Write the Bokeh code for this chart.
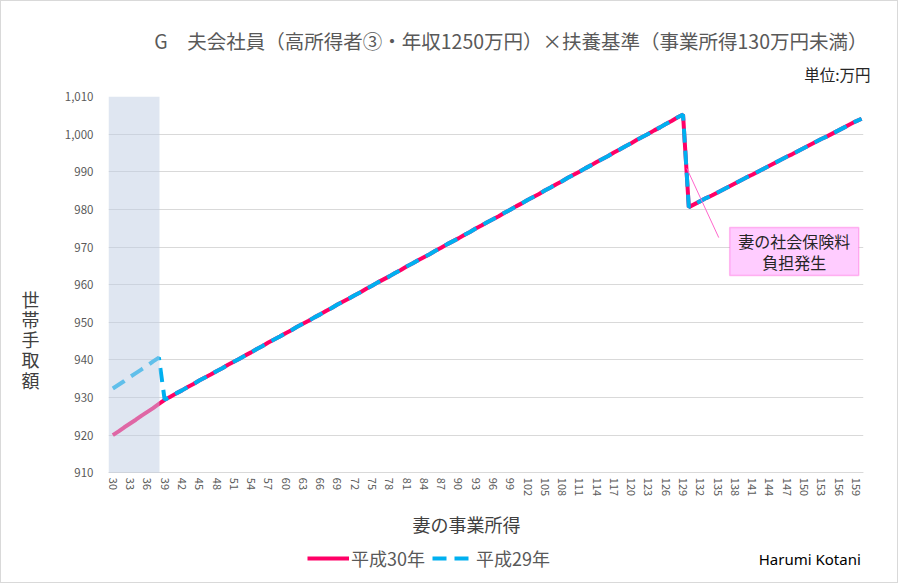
from bokeh.plotting import figure
from bokeh.models import (Range1d, FixedTicker, NumeralTickFormatter, BoxAnnotation,
                          Label, Legend, LegendItem, Arrow, Title, LinearAxis)
from bokeh.embed import file_html
from bokeh.resources import INLINE

JP = "Noto Sans CJK JP"

# wife's business income (万円), one category per 1万円
income = list(range(30, 161))

# household take-home (万円)
h30 = [
    920.0, 921.0, 922.1, 923.1, 924.1, 925.2, 926.2, 927.2, 928.3,            # 30-38
    929.4, 930.2, 931.1, 931.9, 932.8, 933.6, 934.5, 935.3, 936.1, 937.0,     # 39-48
    937.8, 938.7, 939.5, 940.3, 941.2, 942.0, 942.9, 943.7, 944.6, 945.4,     # 49-58
    946.2, 947.1, 947.9, 948.8, 949.6, 950.4, 951.3, 952.1, 953.0, 953.8,     # 59-68
    954.7, 955.5, 956.3, 957.2, 958.0, 958.9, 959.7, 960.6, 961.4, 962.2,     # 69-78
    963.1, 963.9, 964.8, 965.6, 966.5, 967.3, 968.1, 969.0, 969.8, 970.7,     # 79-88
    971.5, 972.3, 973.2, 974.0, 974.9, 975.7, 976.6, 977.4, 978.2, 979.1,     # 89-98
    979.9, 980.8, 981.6, 982.5, 983.3, 984.1, 985.0, 985.8, 986.7, 987.5,     # 99-108
    988.4, 989.2, 990.0, 990.9, 991.7, 992.6, 993.4, 994.2, 995.1, 995.9,     # 109-118
    996.8, 997.6, 998.5, 999.3, 1000.1, 1001.0, 1001.8, 1002.7, 1003.5,       # 119-127
    1004.4, 1005.2,                                                           # 128-129
    980.6, 981.4, 982.2, 983.0, 983.7, 984.5, 985.3, 986.1, 986.9, 987.7,     # 130-139
    988.5, 989.2, 990.0, 990.8, 991.6, 992.4, 993.2, 994.0, 994.7, 995.5,     # 140-149
    996.3, 997.1, 997.9, 998.7, 999.4, 1000.2, 1001.0, 1001.8, 1002.6,        # 150-158
    1003.4, 1004.1,                                                           # 159-160
]
# H29 differs only while the spouse deduction applies (30-38)
h29_low = [932.4, 933.4, 934.4, 935.5, 936.5, 937.5, 938.5, 939.6, 940.6]
h29 = h29_low + h30[len(h29_low):]

x_ticks = list(range(30, 160, 3))
y_ticks = list(range(910, 1011, 10))

title_text = "G　夫会社員（高所得者③・年収1250万円）×扶養基準（事業所得130万円未満）"
y_title = "世帯手取額"
y_title_pos = [956.3, 950.8, 945.6, 940.3, 934.6]

# the frame runs down to the bottom of the page so that the x title, legend and
# credit sit inside it; the x axis is pinned at 910
p = figure(width=898, height=583, output_backend="svg", toolbar_location=None,
           title=None, x_range=Range1d(29.25, 160.33), y_range=Range1d(881.64, 1010),
           min_border_left=107, min_border_right=36, min_border_top=95,
           min_border_bottom=5)
p.styles = {"border": "1px solid #D9D9D9"}
p.outline_line_color = None
p.xgrid.grid_line_color = None
p.ygrid.grid_line_color = "#D9D9D9"
p.ygrid.ticker = FixedTicker(ticks=y_ticks)

p.xaxis.fixed_location = 910
p.xaxis.ticker = FixedTicker(ticks=x_ticks)
p.xaxis.major_label_orientation = "vertical"
p.xaxis.axis_line_color = "#D9D9D9"
p.xaxis.major_tick_line_color = None
p.xaxis.minor_tick_line_color = None
p.xaxis.major_tick_out = 0
p.xaxis.major_label_standoff = 5
p.xaxis.major_label_text_font = JP
p.xaxis.major_label_text_font_size = "11px"
p.xaxis.major_label_text_color = "#595959"

p.yaxis.ticker = FixedTicker(ticks=y_ticks)
p.yaxis.formatter = NumeralTickFormatter(format="0,0")
p.yaxis.axis_line_color = None
p.yaxis.major_tick_line_color = None
p.yaxis.minor_tick_line_color = None
p.yaxis.major_tick_out = 0
p.yaxis.major_label_standoff = 15
p.yaxis.major_label_text_font = JP
p.yaxis.major_label_text_font_size = "11.5px"
p.yaxis.major_label_text_color = "#595959"

# upright, stacked y title: a bare axis whose labels are the characters
ytitle_axis = LinearAxis(ticker=FixedTicker(ticks=y_title_pos),
                         major_label_overrides=dict(zip(y_title_pos, y_title)),
                         axis_line_color=None, major_tick_line_color=None,
                         minor_tick_line_color=None, major_tick_out=0,
                         major_label_standoff=22, major_label_text_font=JP,
                         major_label_text_font_size="18px",
                         major_label_text_color="#404040")
p.add_layout(ytitle_axis, "left")

r30 = p.line(income, h30, line_color="#FF0066", line_width=4)
r29 = p.line(income, h29, line_color="#00B0F0", line_width=4, line_dash="14 8")

# shaded band over the spouse-deduction range, drawn on top of the lines
p.add_layout(BoxAnnotation(right=38.1, bottom=910, top=1010, fill_color="#BFCDE3",
                           fill_alpha=0.5, line_color=None))

# titles above the frame
p.add_layout(Title(text="単位:万円", align="right", offset=-7, standoff=23,
                   text_font=JP, text_font_size="15.5px", text_font_style="normal",
                   text_color="#262626"), "above")
p.add_layout(Title(text=title_text, align="right", offset=-4, standoff=-11,
                   text_font=JP, text_font_size="19.5px", text_font_style="normal",
                   text_color="#595959"), "above")

# x title, legend and credit
p.add_layout(Label(x=91.4, y=896.5, text="妻の事業所得", text_align="center",
                   text_baseline="middle", text_font=JP, text_font_size="18px",
                   text_color="#404040"))
legend = Legend(items=[LegendItem(label="平成30年", renderers=[r30]),
                       LegendItem(label="平成29年", renderers=[r29])],
                orientation="horizontal", location=(199, 8),
                padding=0, margin=0, spacing=7, glyph_width=42, label_standoff=2,
                border_line_color=None, background_fill_alpha=0,
                label_text_font=JP, label_text_font_size="18px",
                label_text_color="#595959")
p.add_layout(legend, "center")
p.add_layout(Label(x=159.86, y=886.96, text="Harumi Kotani", text_align="right",
                   text_baseline="middle", text_font="Noto Sans", text_font_size="15px",
                   text_color="#000000"))

# callout
p.add_layout(Arrow(x_start=129.65, y_start=990.9, x_end=135.2, y_end=972.5, end=None,
                   line_color="#FF66CC", line_width=1))
p.add_layout(BoxAnnotation(left=137.1, right=159.5, bottom=962.4, top=975.2,
                           fill_color="#FFCCFF", fill_alpha=1,
                           line_color="#FF33CC", line_width=1.5))
p.add_layout(Label(x=148.3, y=971.5, text="妻の社会保険料", text_align="center",
                   text_baseline="middle", text_font=JP, text_font_size="16px",
                   text_color="#262626"))
p.add_layout(Label(x=148.3, y=965.9, text="負担発生", text_align="center",
                   text_baseline="middle", text_font=JP, text_font_size="16px",
                   text_color="#262626"))

open("out.html", "w").write(file_html(p, INLINE))
